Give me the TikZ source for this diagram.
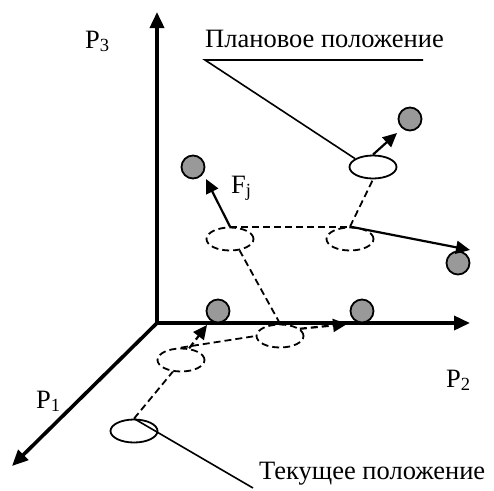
\documentclass[tikz,border=0pt]{standalone}
\usepackage{fontspec}
\setmainfont{Liberation Serif}
\usetikzlibrary{arrows.meta,shapes.geometric}
\definecolor{ballgray}{RGB}{153,153,153}
\begin{document}
\begin{tikzpicture}[x=1pt,y=-1pt,
  axis/.style={line width=3.6pt,line cap=rect,-{Triangle[length=16pt,width=14pt]}},
  posell/.style={ellipse,draw,line width=1.8pt,minimum width=47pt,minimum height=23pt,inner sep=0pt},
  dposell/.style={posell,dash pattern=on 7pt off 4pt},
  ball/.style={circle,draw,line width=1.8pt,fill=ballgray,minimum size=23pt,inner sep=0pt},
  force/.style={line width=2.2pt,-{Triangle[length=14pt,width=13pt]}},
  dforce/.style={force,dash pattern=on 7pt off 4pt},
  link/.style={line width=1.8pt,dash pattern=on 7pt off 4pt},
  leader/.style={line width=1.6pt},
  lbl/.style={font=\fontsize{26.5}{30}\selectfont,inner sep=0pt}]
\useasboundingbox (0,0) rectangle (494,490);
% axes
\coordinate (O) at (157,323);
\coordinate (X3) at (157,12);
\coordinate (X2) at (470,323);
\coordinate (X1) at (12,466);
\draw[axis] (O) -- (X3);
\draw[axis] (O) -- (X2);
\draw[axis] (O) -- (X1);
% positions
\node[posell]  (E1) at (134,431) {};
\node[dposell] (E2) at (181,360) {};
\node[dposell] (E3) at (280,336) {};
\node[dposell] (E4) at (230,239) {};
\node[dposell] (E5) at (350,239) {};
\node[posell]  (E6) at (373,167) {};
% balls
\node[ball] (B1) at (218,311) {};
\node[ball] (B2) at (362,311) {};
\node[ball] (B4) at (193,167) {};
\node[ball] (B5) at (458,263) {};
\node[ball] (B6) at (410,119) {};
% arrow tips
\coordinate (t1) at (207,325);
\coordinate (t2) at (347,324);
\coordinate (t4) at (206,179);
\coordinate (t5) at (470,250);
\coordinate (t6) at (397,133);
% links
\draw[link] (E1.north) -- (E2.235);
\draw[dforce] (E2.55) -- (t1);
\draw[link] (E2.north) -- (E3.west);
\draw[dforce] (E3.20) -- (t2);
\draw[link] (E3.north) -- (E4.310);
\draw[link] (E4.north) -- (E5.north);
\draw[force] (E4.north) -- (t4);
\draw[force] (E5.north) -- (t5);
\draw[link] (E5.north) -- (E6.south);
\draw[force] (E6.north) -- (t6);
% leaders
\coordinate (L1) at (205,60);
\coordinate (L2) at (423,60);
\coordinate (L3) at (253,488);
\draw[leader] (E6.155) -- (L1) -- (L2);
\draw[leader] (E1.north) -- (L3);
% labels
\node[lbl,anchor=base west] (plan) at (205,47) {Плановое положение};
\node[lbl,anchor=base west] (cur) at (259,479) {Текущее положение};
\node[lbl,anchor=base west] (p3) at (85,48) {P\textsubscript{3}};
\node[lbl,anchor=base west] (p1) at (36,408) {P\textsubscript{1}};
\node[lbl,anchor=base west] (p2) at (446,387) {P\textsubscript{2}};
\node[lbl,anchor=base west] (fj) at (231,193) {F\textsubscript{j}};
\end{tikzpicture}
\end{document}
